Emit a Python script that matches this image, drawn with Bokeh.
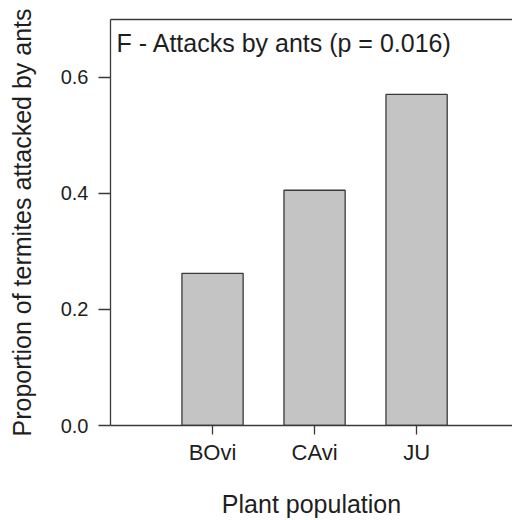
from bokeh.plotting import figure
from bokeh.models import Range1d, FixedTicker, LinearAxis, Label
from bokeh.embed import file_html
from bokeh.resources import INLINE

categories = ["BOvi", "CAvi", "JU"]
proportions = [0.262, 0.405, 0.570]
y_ticks = [0.0, 0.2, 0.4, 0.6]
y_tick_labels = ["0.0", "0.2", "0.4", "0.6"]
panel_title = "F - Attacks by ants (p = 0.016)"
x_title = "Plant population"
y_title = "Proportion of termites attacked by ants"

positions = [i + 1 for i in range(len(categories))]

FONT = "Liberation Sans"
TXT = "#1e1e1e"
LINE = "#3a3a3a"

p = figure(width=512, height=520, output_backend="svg", toolbar_location=None,
           x_range=Range1d(0, 3.94), y_range=Range1d(0, 0.699),
           min_border_left=110, min_border_right=0, min_border_top=19,
           min_border_bottom=94, background_fill_color="white",
           border_fill_color="white")
p.outline_line_color = None
p.xgrid.visible = False
p.ygrid.visible = False

p.vbar(x=positions, top=proportions, width=0.6, bottom=0,
       fill_color="#c4c4c4", line_color=LINE, line_width=1.3)

# x axis
xa = p.xaxis[0]
xa.ticker = FixedTicker(ticks=positions)
xa.major_label_overrides = {pos: cat for pos, cat in zip(positions, categories)}
xa.minor_tick_line_color = None
xa.major_tick_in = 0
xa.major_tick_out = 9
xa.major_label_standoff = 5
xa.axis_line_color = LINE
xa.major_tick_line_color = LINE
xa.axis_line_width = 1.3
xa.major_tick_line_width = 1.3
xa.major_label_text_font = FONT
xa.major_label_text_font_size = "22px"
xa.major_label_text_color = TXT
xa.axis_label = x_title
xa.axis_label_text_font = FONT
xa.axis_label_text_font_size = "25px"
xa.axis_label_text_font_style = "normal"
xa.axis_label_text_color = TXT
xa.axis_label_standoff = 22

# y axis
ya = p.yaxis[0]
ya.ticker = FixedTicker(ticks=y_ticks)
ya.major_label_overrides = {t: lab for t, lab in zip(y_ticks, y_tick_labels)}
ya.minor_tick_line_color = None
ya.major_tick_in = 0
ya.major_tick_out = 12
ya.major_label_standoff = 10
ya.axis_line_color = LINE
ya.major_tick_line_color = LINE
ya.axis_line_width = 1.3
ya.major_tick_line_width = 1.3
ya.major_label_text_font = FONT
ya.major_label_text_font_size = "20px"
ya.major_label_text_color = TXT
ya.axis_label = y_title
ya.axis_label_text_font = FONT
ya.axis_label_text_font_size = "25px"
ya.axis_label_text_font_style = "normal"
ya.axis_label_text_color = TXT
ya.axis_label_standoff = 22

# top border line
top_axis = LinearAxis(ticker=FixedTicker(ticks=[]), axis_line_color=LINE,
                      axis_line_width=1.3, major_tick_line_color=None,
                      minor_tick_line_color=None)
p.add_layout(top_axis, "above")

p.add_layout(Label(x=0.06, y=0.658, text=panel_title, text_font=FONT,
                   text_font_size="25px", text_color=TXT,
                   text_baseline="alphabetic", text_align="left"))

open("out.html", "w").write(file_html(p, INLINE))
